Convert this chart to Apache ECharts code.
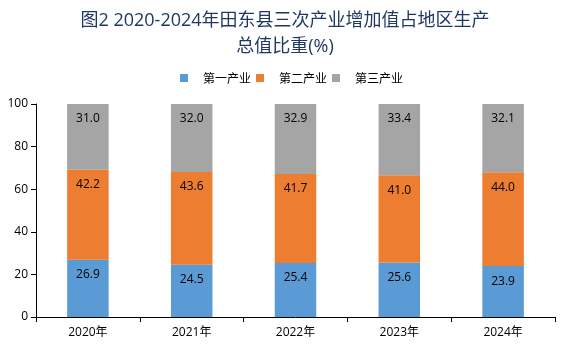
<!DOCTYPE html>
<html><head><meta charset="utf-8">
<script src="https://cdn.jsdelivr.net/npm/echarts@6/dist/echarts.min.js"></script>
<style>html,body{margin:0;padding:0;background:#fff}#c{width:570px;height:350px}</style>
</head><body><div id="c"></div>
<script>
const categories = ['2020年','2021年','2022年','2023年','2024年'];
const primary = [26.9, 24.5, 25.4, 25.6, 23.9];
const secondary = [42.2, 43.6, 41.7, 41.0, 44.0];
const tertiary = [31.0, 32.0, 32.9, 33.4, 32.1];
const yTicks = [0, 20, 40, 60, 80, 100];
const seriesNames = ['第一产业','第二产业','第三产业'];

const chart = echarts.init(document.getElementById('c'));
const lbl = () => ({show:true, position:'insideTop', offset:[0,4], color:'#000', fontSize:12,
  fontFamily:'"Open Sans","Noto Sans CJK SC",sans-serif', formatter: p => p.value.toFixed(1)});
chart.setOption({
  animation:false,
  title:{text:'图2 2020-2024年田东县三次产业增加值占地区生产\n总值比重(%)', left:'center', top:3,
    textStyle:{color:'#1F3864', fontSize:18, fontWeight:'normal', lineHeight:26,
      fontFamily:'"Open Sans","Noto Sans CJK SC",sans-serif'}},
  legend:{top:67, left:175, itemWidth:8, itemHeight:8, itemGap:5, icon:'rect',
    textStyle:{fontSize:12, color:'#000', fontFamily:'"Noto Sans CJK SC",sans-serif', padding:[0,0,0,10]},
    data:seriesNames},
  grid:{left:36, right:15, top:104, bottom:33},
  xAxis:{type:'category', data:categories,
    axisLine:{lineStyle:{color:'#000'}}, axisTick:{show:true, lineStyle:{color:'#000'}, length:5},
    axisLabel:{color:'#000', fontSize:12, margin:10, fontFamily:'"Open Sans","Noto Sans CJK SC",sans-serif'}},
  yAxis:{type:'value', min:yTicks[0], max:yTicks[yTicks.length-1], interval:20,
    axisLine:{show:true, lineStyle:{color:'#000'}}, axisTick:{show:true, lineStyle:{color:'#000'}, length:5},
    splitLine:{show:false},
    axisLabel:{color:'#000', fontSize:12, margin:8, fontFamily:'"Open Sans",sans-serif'}},
  series:[
    {name:seriesNames[0], type:'bar', stack:'s', data:primary, barWidth:'40%', itemStyle:{color:'#5B9BD5'}, label:lbl()},
    {name:seriesNames[1], type:'bar', stack:'s', data:secondary, itemStyle:{color:'#ED7D31'}, label:lbl()},
    {name:seriesNames[2], type:'bar', stack:'s', data:tertiary, itemStyle:{color:'#A5A5A5'}, label:lbl()}
  ]
});
</script></body></html>
